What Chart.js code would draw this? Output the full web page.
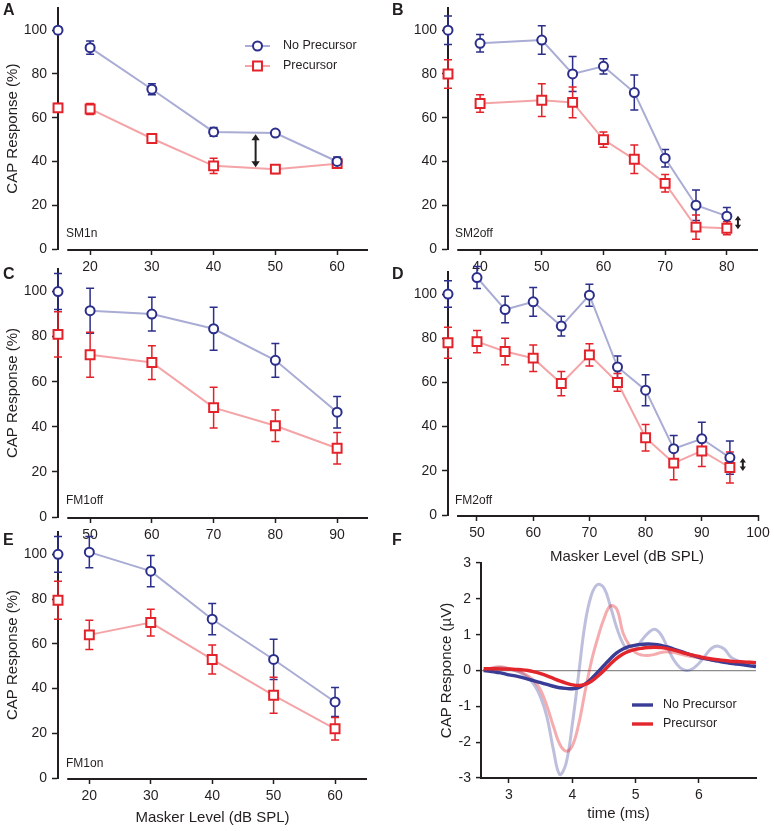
<!DOCTYPE html>
<html>
<head>
<meta charset="utf-8">
<script src="https://cdn.jsdelivr.net/npm/chart.js@4.4.1/dist/chart.umd.min.js"></script>
<style>
  body { margin: 0; background: #fff; }
  #wrap { position: relative; width: 774px; height: 831px; font-family: "Liberation Sans", Arial, Helvetica, sans-serif; color: #231f20; }
  #wrap canvas { position: absolute; left: 0; top: 0; }
  .txt { position: absolute; white-space: nowrap; transform: translateY(-50%); }
  .letter { font-weight: bold; font-size: 16px; }
  .cond { font-size: 12px; }
</style>
</head>
<body>
<div id="wrap">
  <canvas id="chartA" width="774" height="831"></canvas>
  <canvas id="chartB" width="774" height="831"></canvas>
  <canvas id="chartC" width="774" height="831"></canvas>
  <canvas id="chartD" width="774" height="831"></canvas>
  <canvas id="chartE" width="774" height="831"></canvas>
  <canvas id="chartF" width="774" height="831"></canvas>

  <div class="txt letter" style="left:3px;top:10px">A</div>
  <div class="txt letter" style="left:392px;top:10px">B</div>
  <div class="txt letter" style="left:3px;top:274px">C</div>
  <div class="txt letter" style="left:392px;top:274px">D</div>
  <div class="txt letter" style="left:3px;top:540px">E</div>
  <div class="txt letter" style="left:392px;top:540px">F</div>

  <div class="txt cond" style="left:66px;top:233px">SM1n</div>
  <div class="txt cond" style="left:455px;top:233px">SM2off</div>
  <div class="txt cond" style="left:66px;top:500px">FM1off</div>
  <div class="txt cond" style="left:455px;top:500px">FM2off</div>
  <div class="txt cond" style="left:66px;top:763px">FM1on</div>
  <div class="txt" style="left:627px;top:555px;font-size:15px;transform:translate(-50%,-50%)">Masker Level (dB SPL)</div>
</div>

<script>
// ---------- data (CAP response in % of unmasked, error = half bar height) ----------
const pctTicks = [0, 20, 40, 60, 80, 100];

// A: SM1n
const aLevels = [20, 30, 40, 50, 60];
const aNoPre = [92, 73, 53.5, 53, 40];
const aNoPreErr = [3, 2.5, 2, 1, 2];
const aPre = [64, 50.5, 38, 36.5, 39];
const aPreErr = [2.5, 1.5, 3.5, 2, 1.5];
const aRef = [100, 64.5];          // unmasked point: [no precursor, precursor]
const aRefErr = [1.5, 2];
const aArrow = [46.8, 52.4, 37.4]; // x, from, to

// B: SM2off
const bLevels = [40, 50, 55, 60, 65, 70, 75, 80];
const bNoPre = [94, 95.5, 80, 83.5, 71.5, 41.5, 20, 15];
const bNoPreErr = [4, 6.5, 8, 3.5, 8, 4, 7, 4];
const bPre = [66.5, 68, 67, 50, 41, 30, 10, 9.5];
const bPreErr = [4, 7.5, 7, 3.5, 6.5, 4, 5.5, 3];
const bRef = [100, 80];
const bRefErr = [6.5, 6.5];
const bTicks = [40, 50, 60, 70, 80];
const bArrow = [81.8, 15.2, 9.0];

// C: FM1off
const cLevels = [50, 60, 70, 80, 90];
const cNoPre = [91.5, 90, 83.5, 69.5, 46.5];
const cNoPreErr = [10, 7.5, 9.5, 7.5, 7];
const cPre = [72, 68.5, 48.5, 40.5, 30.5];
const cPreErr = [10, 7.5, 9, 7, 7];
const cRef = [100, 81];
const cRefErr = [8, 10];

// D: FM2off
const dLevels = [50, 55, 60, 65, 70, 75, 80, 85, 90, 95];
const dNoPre = [107.5, 93, 96.5, 85.5, 99.5, 67, 56.5, 30, 34.5, 26];
const dNoPreErr = [5, 6, 6.5, 4.5, 5, 5, 7, 6, 7.5, 7.5];
const dPre = [78.5, 74, 71, 59.5, 72.5, 60, 35, 23.5, 29, 21.5];
const dPreErr = [5, 6, 6, 5.5, 5, 4, 6, 7.5, 7, 7];
const dRef = [100, 78];
const dRefErr = [6, 7];
const dTicks = [50, 60, 70, 80, 90, 100];
const dArrow = [97.3, 25.8, 19.9];

// E: FM1on
const eLevels = [20, 30, 40, 50, 60];
const eNoPre = [101, 92.5, 71, 53, 34];
const eNoPreErr = [7, 7, 7, 9, 6.5];
const ePre = [64, 69.5, 53, 37, 22];
const ePreErr = [6.5, 6, 6.5, 8, 5];
const eRef = [100, 79.5];
const eRefErr = [8, 8.5];

// F: CAP waveforms (uV) vs time (ms)
const fTime = [2.6, 2.7, 2.8, 2.9, 3.0, 3.1, 3.2, 3.3, 3.4, 3.5, 3.6, 3.7, 3.8, 3.9, 4.0, 4.1, 4.2, 4.3, 4.4, 4.5, 4.6, 4.7,
               4.8, 4.9, 5.0, 5.1, 5.2, 5.3, 5.4, 5.5, 5.6, 5.7, 5.8, 5.9, 6.0, 6.1, 6.2, 6.3, 6.4, 6.5, 6.6, 6.7, 6.8, 6.9];
const fNoPreFaint = [0, 0.05, 0.08, 0.08, 0.04, 0, -0.08, -0.2, -0.4, -0.75, -1.3, -2.2, -2.9, -2.6, -1.5, -0.1, 1.3, 2.1, 2.4, 2.3, 1.8, 1.2,
                     0.75, 0.55, 0.62, 0.85, 1.05, 1.15, 1.0, 0.65, 0.3, 0.08, 0, 0.05, 0.2, 0.42, 0.62, 0.68, 0.6, 0.38, 0.28, 0.2, 0.17, 0.15];
const fPreFaint = [0, 0.06, 0.1, 0.1, 0.05, 0, -0.05, -0.15, -0.3, -0.55, -1.0, -1.55, -2.05, -2.25, -2.1, -1.5, -0.6, 0.25, 0.9, 1.45, 1.8, 1.72,
                   1.05, 0.7, 0.5, 0.43, 0.42, 0.45, 0.5, 0.52, 0.5, 0.46, 0.42, 0.38, 0.35, 0.32, 0.3, 0.28, 0.27, 0.25, 0.24, 0.23, 0.23, 0.22];
const fNoPre = [0, -0.02, -0.05, -0.08, -0.12, -0.15, -0.19, -0.24, -0.29, -0.34, -0.39, -0.44, -0.48, -0.5, -0.51, -0.48, -0.38, -0.23, -0.05, 0.14, 0.33, 0.49,
                0.6, 0.67, 0.71, 0.73, 0.74, 0.73, 0.7, 0.66, 0.6, 0.54, 0.48, 0.42, 0.37, 0.33, 0.29, 0.26, 0.23, 0.2, 0.18, 0.16, 0.13, 0.11];
const fPre = [0.05, 0.05, 0.05, 0.04, 0.04, 0.03, 0.02, 0, -0.04, -0.09, -0.15, -0.22, -0.29, -0.35, -0.4, -0.42, -0.39, -0.3, -0.16, 0, 0.18, 0.34,
              0.46, 0.54, 0.59, 0.62, 0.64, 0.65, 0.64, 0.61, 0.57, 0.52, 0.47, 0.43, 0.39, 0.35, 0.32, 0.3, 0.28, 0.26, 0.25, 0.24, 0.23, 0.22];
const fTicksX = [3, 4, 5, 6];
const fTicksY = [-3, -2, -1, 0, 1, 2, 3];

// ---------- styles ----------
const black = '#231f20';
const npColor = '#2b2e8a', npLine = '#a9acd4';
const pColor = '#e3222a', pLine = '#f4a4a7';
Chart.defaults.font.family = '"Liberation Sans", Arial, Helvetica, sans-serif';
Chart.defaults.color = black;

function drawMarker(ctx, ds, x, y) {
  ctx.lineWidth = ds.pointBorderWidth;
  ctx.strokeStyle = ds.pointBorderColor;
  ctx.fillStyle = '#fff';
  ctx.beginPath();
  if (ds.pointStyle === 'rect') {
    const s = ds.pointRadius * Math.SQRT1_2;
    ctx.rect(x - s, y - s, 2 * s, 2 * s);
  } else {
    ctx.arc(x, y, ds.pointRadius, 0, Math.PI * 2);
  }
  ctx.fill();
  ctx.stroke();
}

// vertical error bars with caps, under the markers
const errorBars = {
  id: 'errorBars',
  beforeDatasetsDraw(chart) {
    const ctx = chart.ctx, ys = chart.scales.y;
    chart.data.datasets.forEach((ds, di) => {
      if (!ds.errors) return;
      chart.getDatasetMeta(di).data.forEach((pt, i) => {
        const v = ds.data[i].y, e = ds.errors[i];
        const y1 = ys.getPixelForValue(v + e), y2 = ys.getPixelForValue(v - e);
        ctx.save();
        ctx.strokeStyle = ds.pointBorderColor;
        ctx.lineWidth = 1.5;
        ctx.beginPath();
        ctx.moveTo(pt.x, y1); ctx.lineTo(pt.x, y2);
        ctx.moveTo(pt.x - 4, y1); ctx.lineTo(pt.x + 4, y1);
        ctx.moveTo(pt.x - 4, y2); ctx.lineTo(pt.x + 4, y2);
        ctx.stroke();
        ctx.restore();
      });
    });
  }
};

// x axis line that starts a bit right of the y axis
const offsetAxis = {
  id: 'offsetAxis',
  afterDraw(chart, args, o) {
    if (o.from === undefined) return;
    const xs = chart.scales.x, ctx = chart.ctx;
    ctx.save();
    ctx.strokeStyle = black;
    ctx.lineWidth = 2;
    ctx.beginPath();
    ctx.moveTo(xs.getPixelForValue(o.from), xs.top + 1);
    ctx.lineTo(xs.right, xs.top + 1);
    ctx.stroke();
    ctx.restore();
  }
};

// double headed arrow between two values
const arrows = {
  id: 'arrows',
  afterDatasetsDraw(chart, args, o) {
    if (!o.arrow) return;
    const [xv, from, to] = o.arrow;
    const ctx = chart.ctx;
    const x = chart.scales.x.getPixelForValue(xv);
    const y1 = chart.scales.y.getPixelForValue(from), y2 = chart.scales.y.getPixelForValue(to);
    const h = o.head || 6;
    ctx.save();
    ctx.strokeStyle = black; ctx.fillStyle = black; ctx.lineWidth = 2;
    ctx.beginPath(); ctx.moveTo(x, y1 + h - 1); ctx.lineTo(x, y2 - h + 1); ctx.stroke();
    ctx.beginPath();
    ctx.moveTo(x, y1); ctx.lineTo(x - h * 0.7, y1 + h); ctx.lineTo(x + h * 0.7, y1 + h); ctx.closePath();
    ctx.moveTo(x, y2); ctx.lineTo(x - h * 0.7, y2 - h); ctx.lineTo(x + h * 0.7, y2 - h); ctx.closePath();
    ctx.fill();
    ctx.restore();
  }
};

// legend with a line sample (and marker)
const lineLegend = {
  id: 'lineLegend',
  afterDraw(chart, args, o) {
    if (!o.items) return;
    const ctx = chart.ctx;
    o.items.forEach((di, k) => {
      const ds = chart.data.datasets[di];
      const y = o.y + k * o.gap;
      ctx.save();
      ctx.strokeStyle = ds.borderColor;
      ctx.lineWidth = ds.borderWidth;
      ctx.beginPath(); ctx.moveTo(o.x, y); ctx.lineTo(o.x + o.len, y); ctx.stroke();
      if (o.markers) drawMarker(ctx, ds, o.x + o.len / 2, y);
      ctx.fillStyle = black;
      ctx.font = o.font;
      ctx.textBaseline = 'middle';
      ctx.fillText(ds.label, o.textX, y);
      ctx.restore();
    });
  }
};

function series(label, levels, vals, errs, color, lineColor, style) {
  return {
    label: label,
    data: levels.map((x, i) => ({ x: x, y: vals[i] })),
    errors: errs,
    borderColor: lineColor,
    borderWidth: 2,
    pointStyle: style,
    pointRadius: style === 'rect' ? 6.3 : 4.5,
    pointBorderColor: color,
    pointBackgroundColor: '#fff',
    pointBorderWidth: 2,
    tension: 0,
    clip: false
  };
}

function axisStyle(tickLen) {
  return {
    grid: { drawOnChartArea: false, tickLength: tickLen, tickColor: black, tickWidth: 1.5 },
    border: { color: black, width: 2 },
    ticks: { font: { size: 14 }, color: black, autoSkip: false, maxRotation: 0, callback: v => String(v) }
  };
}

function levelPanel(id, p) {
  const xMin = p.xMin;
  const datasets = [
    series('No Precursor', p.levels, p.noPre, p.noPreErr, npColor, npLine, 'circle'),
    series('Precursor', p.levels, p.pre, p.preErr, pColor, pLine, 'rect'),
    Object.assign(series('', [xMin], [p.ref[0]], [p.refErr[0]], npColor, npColor, 'circle'), { showLine: false }),
    Object.assign(series('', [xMin], [p.ref[1]], [p.refErr[1]], pColor, pColor, 'rect'), { showLine: false })
  ];
  const xAxis = axisStyle(6);
  const yAxis = axisStyle(6);
  new Chart(document.getElementById(id), {
    type: 'line',
    data: { datasets: datasets },
    options: {
      responsive: false,
      animation: false,
      events: [],
      layout: { padding: p.pad },
      plugins: {
        legend: { display: false },
        tooltip: { enabled: false },
        offsetAxis: { from: p.axisFrom },
        arrows: { arrow: p.arrow, head: p.head },
        lineLegend: p.legend || {}
      },
      scales: {
        x: Object.assign(xAxis, {
          type: 'linear', min: xMin, max: p.xMax,
          border: { display: false },
          ticks: Object.assign(xAxis.ticks, { padding: 4 }),
          afterBuildTicks: a => { a.ticks = p.xTicks.map(v => ({ value: v })); },
          afterFit: s => { s.height = p.xH; s.paddingLeft = 0; s.paddingRight = 0; },
          title: p.xTitle ? { display: true, text: p.xTitle, font: { size: 15 }, color: black, padding: { top: 4, bottom: 4 } } : { display: false }
        }),
        y: Object.assign(yAxis, {
          min: 0, max: 110,
          ticks: Object.assign(yAxis.ticks, { padding: 5 }),
          afterBuildTicks: a => { a.ticks = pctTicks.map(v => ({ value: v })); },
          afterFit: s => { s.width = p.yW; s.paddingTop = 0; s.paddingBottom = 0; },
          title: p.yTitle ? { display: true, text: 'CAP Response (%)', font: { size: 15 }, color: black, padding: { top: 4, bottom: 4 } } : { display: false }
        })
      }
    },
    plugins: [errorBars, offsetAxis, arrows, lineLegend]
  });
}

levelPanel('chartA', {
  levels: aLevels, noPre: aNoPre, noPreErr: aNoPreErr, pre: aPre, preErr: aPreErr, ref: aRef, refErr: aRefErr,
  xMin: 14.8, xMax: 65, xTicks: aLevels, axisFrom: 16.3, arrow: aArrow, head: 6,
  pad: { left: 0, right: 406, top: 4, bottom: 552 }, yW: 58, xH: 30, yTitle: true,
  legend: { items: [0, 1], x: 245, len: 25, y: 46, gap: 20, textX: 283, markers: true, font: '12.5px "Liberation Sans", Arial, sans-serif' }
});

levelPanel('chartB', {
  levels: bLevels, noPre: bNoPre, noPreErr: bNoPreErr, pre: bPre, preErr: bPreErr, ref: bRef, refErr: bRefErr,
  xMin: 34.8, xMax: 85.05, xTicks: bTicks, axisFrom: 36.3, arrow: bArrow, head: 4.5,
  pad: { left: 400, right: 16, top: 4, bottom: 552 }, yW: 48, xH: 30
});

levelPanel('chartC', {
  levels: cLevels, noPre: cNoPre, noPreErr: cNoPreErr, pre: cPre, preErr: cPreErr, ref: cRef, refErr: cRefErr,
  xMin: 44.8, xMax: 95, xTicks: cLevels, axisFrom: 46.3,
  pad: { left: 0, right: 406, top: 269, bottom: 284 }, yW: 58, xH: 30, yTitle: true
});

levelPanel('chartD', {
  levels: dLevels, noPre: dNoPre, noPreErr: dNoPreErr, pre: dPre, preErr: dPreErr, ref: dRef, refErr: dRefErr,
  xMin: 44.84, xMax: 100, xTicks: dTicks, axisFrom: 46.45, arrow: dArrow, head: 4.5,
  pad: { left: 400, right: 16, top: 272, bottom: 286 }, yW: 48, xH: 30
});

levelPanel('chartE', {
  levels: eLevels, noPre: eNoPre, noPreErr: eNoPreErr, pre: ePre, preErr: ePreErr, ref: eRef, refErr: eRefErr,
  xMin: 14.9, xMax: 65.2, xTicks: eLevels, axisFrom: 16.4,
  pad: { left: 0, right: 407, top: 532, bottom: 0 }, yW: 58, xH: 53, yTitle: true, xTitle: 'Masker Level (dB SPL)'
});

// F: waveforms
function wave(label, vals, color, width) {
  return {
    label: label,
    data: fTime.map((t, i) => ({ x: t, y: vals[i] })),
    borderColor: color, borderWidth: width,
    pointRadius: 0, tension: 0.4, clip: false
  };
}

const fx = axisStyle(5), fy = axisStyle(5);
new Chart(document.getElementById('chartF'), {
  type: 'line',
  data: {
    datasets: [
      wave('Precursor', fPre, '#e3262c', 3.4),
      wave('No Precursor', fNoPre, '#3a3d95', 3.4),
      wave('', fPreFaint, 'rgba(229,38,44,0.38)', 3),
      wave('', fNoPreFaint, 'rgba(58,61,150,0.33)', 3)
    ]
  },
  options: {
    responsive: false,
    animation: false,
    events: [],
    layout: { padding: { left: 434, right: 18, top: 563, bottom: 4 } },
    plugins: {
      legend: { display: false },
      tooltip: { enabled: false },
      lineLegend: { items: [1, 0], x: 632, len: 21, y: 705, gap: 19, textX: 663, font: '12.5px "Liberation Sans", Arial, sans-serif' }
    },
    scales: {
      x: Object.assign(fx, {
        type: 'linear', min: 2.558, max: 6.9,
        ticks: Object.assign(fx.ticks, { padding: 4 }),
        afterBuildTicks: a => { a.ticks = fTicksX.map(v => ({ value: v })); },
        afterFit: s => { s.height = 49; s.paddingLeft = 0; s.paddingRight = 0; },
        title: { display: true, text: 'time (ms)', font: { size: 15 }, color: black, padding: { top: 4, bottom: 4 } }
      }),
      y: Object.assign(fy, {
        min: -3, max: 3,
        grid: {
          drawOnChartArea: true, tickLength: 5, tickColor: black, tickWidth: 1.5,
          color: c => (c.tick && c.tick.value === 0 ? '#8c8c8c' : 'rgba(0,0,0,0)'),
          lineWidth: 1.2
        },
        ticks: Object.assign(fy.ticks, { padding: 5 }),
        afterBuildTicks: a => { a.ticks = fTicksY.map(v => ({ value: v })); },
        afterFit: s => { s.width = 47; s.paddingTop = 0; s.paddingBottom = 0; },
        title: { display: true, text: 'CAP Responce (µV)', font: { size: 15 }, color: black, padding: { top: 4, bottom: 4 } }
      })
    }
  },
  plugins: [lineLegend]
});
</script>
</body>
</html>
